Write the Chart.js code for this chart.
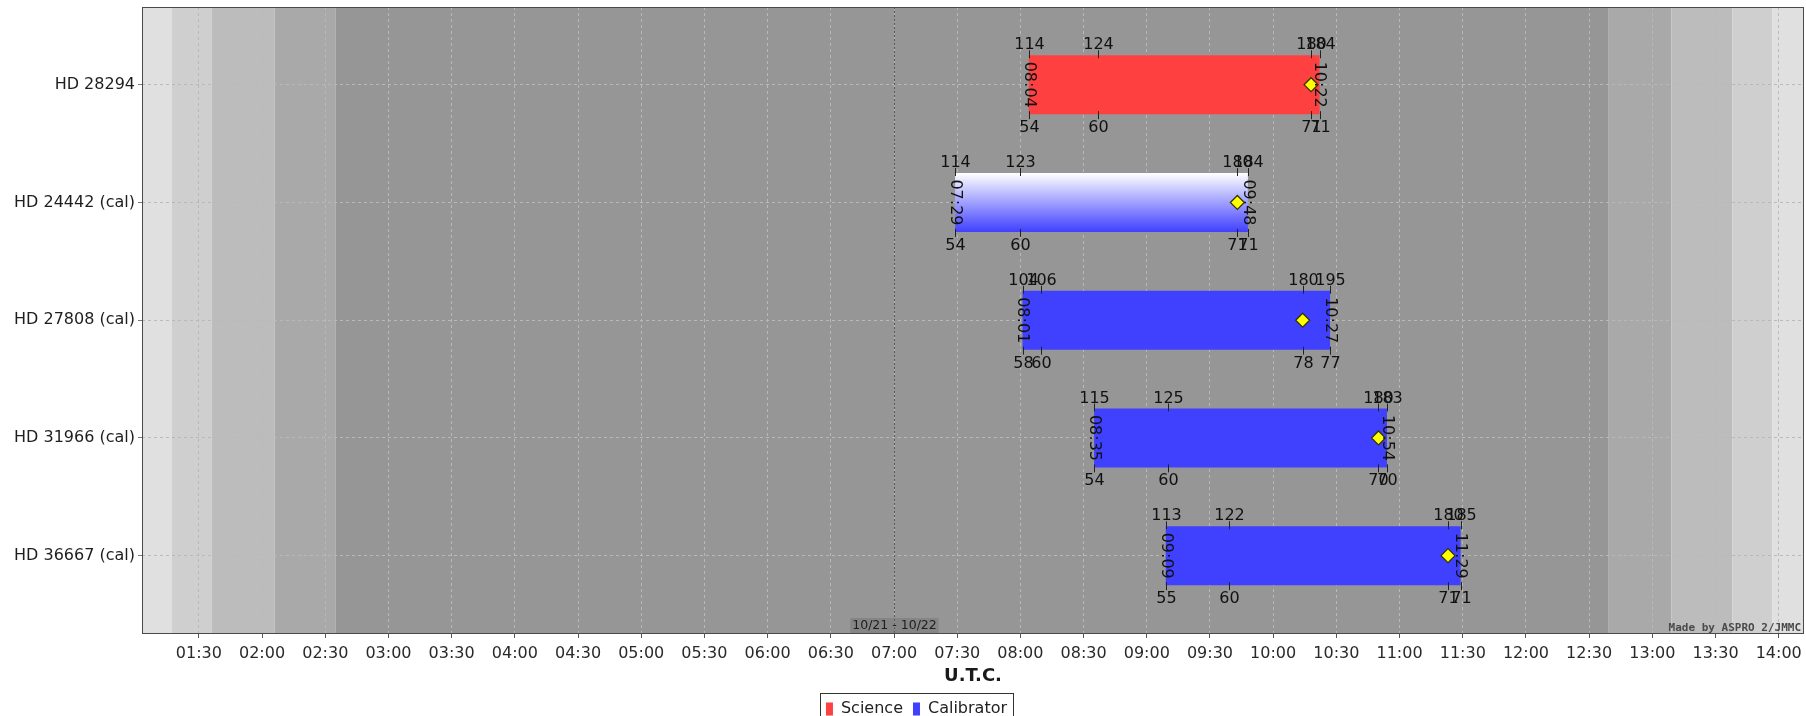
<!DOCTYPE html>
<html>
<head>
<meta charset="utf-8">
<title>Observability</title>
<script src="https://cdn.jsdelivr.net/npm/chart.js@4.4.1/dist/chart.umd.min.js"></script>
<style>
  html, body { margin: 0; padding: 0; background: #ffffff; overflow: hidden; }
  canvas { display: block; }
</style>
</head>
<body>
<canvas id="chart" width="1806" height="727"></canvas>
<script>
// ---- Targets and their observability windows (U.T.C.) ----
const targets      = ['HD 28294', 'HD 24442 (cal)', 'HD 27808 (cal)', 'HD 31966 (cal)', 'HD 36667 (cal)'];
const targetKinds  = ['Science', 'Calibrator', 'Calibrator', 'Calibrator', 'Calibrator'];
const riseTimes    = ['08:04', '07:29', '08:01', '08:35', '09:09'];
const setTimes     = ['10:22', '09:48', '10:27', '10:54', '11:29'];
const elev60Times  = ['08:37', '08:00', '08:10', '09:10', '09:39'];
const transitTimes = ['10:18', '09:43', '10:14', '10:50', '11:23'];

// azimuth / elevation (deg) at rise, 60 deg elevation, transit and set
const riseAz    = [114, 114, 104, 115, 113];
const riseEl    = [54, 54, 58, 54, 55];
const elev60Az  = [124, 123, 106, 125, 122];
const elev60El  = [60, 60, 60, 60, 60];
const transitAz = [180, 180, 180, 180, 180];
const transitEl = [71, 71, 78, 70, 71];
const setAz     = [184, 184, 195, 183, 185];
const setEl     = [71, 71, 77, 70, 71];

// time axis
const axisStart = '01:03';
const axisEnd   = '14:12';
const timeTicks = ['01:30', '02:00', '02:30', '03:00', '03:30', '04:00', '04:30', '05:00', '05:30',
                   '06:00', '06:30', '07:00', '07:30', '08:00', '08:30', '09:00', '09:30', '10:00',
                   '10:30', '11:00', '11:30', '12:00', '12:30', '13:00', '13:30', '14:00'];

// twilight boundaries (sunset side, then sunrise side)
const twilightEdges = ['01:17', '01:36', '02:06', '02:35', '12:39', '13:09', '13:38', '13:57'];

// night change marker
const dateMarkTime  = '07:00';
const dateMarkLabel = '10/21 - 10/22';

const highlightedTarget = 'HD 24442 (cal)';
const creditText = 'Made by ASPRO 2/JMMC';

// ---- helpers ----
const FONT = "'DejaVu Sans', sans-serif";
const toMin = (hhmm) => { const [h, m] = hhmm.split(':').map(Number); return h * 60 + m; };

const scienceColor    = '#ff4040';
const calibratorColor = '#4040ff';
const gridColor       = '#b9b9b9';
const bandShades      = ['#e0e0e0', '#cfcfcf', '#bcbcbc', '#a9a9a9', '#969696',
                         '#a9a9a9', '#bcbcbc', '#cfcfcf', '#e0e0e0'];
const LEGEND_SHIFT = 14.5;

const rows = targets.map((_, i) => i);
const windowOf = (i) => ({ x: [toMin(riseTimes[i]), toMin(setTimes[i])], y: i });
const scienceData    = rows.filter(i => targetKinds[i] === 'Science').map(windowOf);
const calibratorData = rows.filter(i => targetKinds[i] === 'Calibrator').map(windowOf);
const transitData    = rows.map(i => ({ x: toMin(transitTimes[i]), y: i }));

const milestonesOf = (i) => [
  { t: riseTimes[i],    az: riseAz[i],    el: riseEl[i] },
  { t: elev60Times[i],  az: elev60Az[i],  el: elev60El[i] },
  { t: transitTimes[i], az: transitAz[i], el: transitEl[i] },
  { t: setTimes[i],     az: setAz[i],     el: setEl[i] }
];

// gradient fill for the highlighted calibrator bar
function calibratorFill(ctx) {
  if (ctx.type !== 'data' || !ctx.raw) return calibratorColor;
  const row = ctx.raw.y;
  if (targets[row] !== highlightedTarget) return calibratorColor;
  const ys = ctx.chart.scales.y;
  if (!ys) return calibratorColor;
  const top = ys.getPixelForValue(row - 0.25);
  const bottom = ys.getPixelForValue(row + 0.25);
  if (!isFinite(top) || !isFinite(bottom) || top === bottom) return calibratorColor;
  const g = ctx.chart.ctx.createLinearGradient(0, top, 0, bottom);
  g.addColorStop(0, '#ffffff');
  g.addColorStop(1, calibratorColor);
  return g;
}

// ---- plugins ----
const twilightBands = {
  id: 'twilightBands',
  beforeDraw(chart) {
    const { ctx, chartArea: a, scales: { x } } = chart;
    const edges = [a.left, ...twilightEdges.map(t => x.getPixelForValue(toMin(t))), a.right];
    ctx.save();
    ctx.fillStyle = '#ffffff';
    ctx.fillRect(0, 0, chart.width, chart.height);
    for (let k = 0; k < edges.length - 1; k++) {
      ctx.fillStyle = bandShades[k];
      ctx.fillRect(edges[k], a.top, edges[k + 1] - edges[k], a.bottom - a.top);
    }
    ctx.restore();
  }
};

// nudges the legend row to sit under the plot like the original layout
const legendOffset = {
  id: 'legendOffset',
  afterLayout(chart) {
    const lg = chart.legend;
    if (lg) { lg.left += LEGEND_SHIFT; lg.right += LEGEND_SHIFT; }
  }
};

const dateMarker = {
  id: 'dateMarker',
  beforeDatasetsDraw(chart) {
    const { ctx, chartArea: a, scales: { x } } = chart;
    const px = Math.round(x.getPixelForValue(toMin(dateMarkTime))) + 0.5;
    ctx.save();
    ctx.strokeStyle = '#5a5a5a';
    ctx.lineWidth = 1;
    ctx.setLineDash([2, 2]);
    ctx.beginPath();
    ctx.moveTo(px, a.top);
    ctx.lineTo(px, a.bottom);
    ctx.stroke();
    ctx.setLineDash([]);
    ctx.font = '12.5px ' + FONT;
    const w = ctx.measureText(dateMarkLabel).width + 4;
    ctx.fillStyle = 'rgba(100,100,100,0.32)';
    ctx.fillRect(px - w / 2, a.bottom - 16, w, 16);
    ctx.fillStyle = '#1e1e1e';
    ctx.textAlign = 'center';
    ctx.textBaseline = 'middle';
    ctx.fillText(dateMarkLabel, px, a.bottom - 8);
    ctx.restore();
  }
};

const windowMarks = {
  id: 'windowMarks',
  afterDatasetsDraw(chart) {
    const { ctx, scales: { x } } = chart;
    ctx.save();
    ctx.font = '16px ' + FONT;
    ctx.fillStyle = '#111111';
    ctx.strokeStyle = '#222222';
    ctx.lineWidth = 1;
    [0, 1].forEach(ds => {
      const meta = chart.getDatasetMeta(ds);
      const data = chart.data.datasets[ds].data;
      meta.data.forEach((bar, j) => {
        const row = data[j].y;
        const { y, height } = bar.getProps(['y', 'height'], true);
        const top = y - height / 2;
        const bottom = y + height / 2;
        milestonesOf(row).forEach(m => {
          const px = Math.round(x.getPixelForValue(toMin(m.t))) + 0.5;
          ctx.beginPath();
          ctx.moveTo(px, top - 5);
          ctx.lineTo(px, top + 3);
          ctx.moveTo(px, bottom - 3);
          ctx.lineTo(px, bottom + 5);
          ctx.stroke();
          ctx.textAlign = 'center';
          ctx.textBaseline = 'alphabetic';
          ctx.fillText(String(m.az), px, top - 6);
          ctx.fillText(String(m.el), px, bottom + 18);
        });
        [riseTimes[row], setTimes[row]].forEach(t => {
          const px = x.getPixelForValue(toMin(t));
          ctx.save();
          ctx.translate(px, y);
          ctx.rotate(Math.PI / 2);
          ctx.textAlign = 'center';
          ctx.textBaseline = 'middle';
          ctx.fillText(t, 0, 0);
          ctx.restore();
        });
      });
    });
    ctx.restore();
  }
};

const frameAndCredit = {
  id: 'frameAndCredit',
  afterDraw(chart) {
    const { ctx, chartArea: a, legend } = chart;
    ctx.save();
    // plot frame
    ctx.strokeStyle = '#4a4a4a';
    ctx.lineWidth = 1;
    ctx.strokeRect(Math.round(a.left) + 0.5, Math.round(a.top) + 0.5,
                   Math.round(a.right - a.left) - 1, Math.round(a.bottom - a.top) - 1);
    // credit
    ctx.font = 'bold 11px "DejaVu Sans Mono", monospace';
    ctx.fillStyle = '#4a4a4a';
    ctx.textAlign = 'right';
    ctx.textBaseline = 'alphabetic';
    ctx.fillText(creditText, a.right - 3, a.bottom - 3);
    // legend frame
    const hb = legend && legend.legendHitBoxes;
    if (hb && hb.length) {
      const last = hb[hb.length - 1];
      const l = Math.round(hb[0].left - 6) + 0.5;
      const r = Math.round(last.left + last.width + 6) + 0.5;
      const t = Math.round(hb[0].top - 8) + 0.5;
      ctx.strokeStyle = '#333333';
      ctx.strokeRect(l, t, r - l, 60);
    }
    ctx.restore();
  }
};

Chart.defaults.font.family = FONT;

new Chart(document.getElementById('chart'), {
  type: 'bar',
  data: {
    datasets: [
      {
        label: 'Science',
        data: scienceData,
        backgroundColor: scienceColor,
        borderWidth: 0,
        grouped: false,
        categoryPercentage: 1,
        barPercentage: 0.5,
        order: 2
      },
      {
        label: 'Calibrator',
        data: calibratorData,
        backgroundColor: calibratorFill,
        borderWidth: 0,
        grouped: false,
        categoryPercentage: 1,
        barPercentage: 0.5,
        order: 2
      },
      {
        type: 'scatter',
        label: 'Transit',
        indexAxis: 'x',
        data: transitData,
        pointStyle: 'rectRot',
        pointRadius: 7,
        pointBackgroundColor: '#ffff00',
        pointBorderColor: '#333300',
        pointBorderWidth: 1.2,
        order: 0
      }
    ]
  },
  options: {
    indexAxis: 'y',
    responsive: false,
    animation: false,
    events: [],
    layout: { autoPadding: false, padding: { top: 7, left: 0, right: 2, bottom: 0 } },
    plugins: {
      legend: {
        position: 'bottom',
        labels: {
          boxWidth: 7,
          boxHeight: 13,
          padding: 10,
          color: '#222222',
          font: { family: FONT, size: 16 },
          filter: (item) => item.datasetIndex < 2
        }
      },
      tooltip: { enabled: false },
      title: { display: false }
    },
    scales: {
      x: {
        type: 'linear',
        position: 'bottom',
        min: toMin(axisStart),
        max: toMin(axisEnd),
        afterBuildTicks: (s) => { s.ticks = timeTicks.map(t => ({ value: toMin(t) })); },
        afterFit: (s) => { s.height = 57; s.paddingLeft = 0; s.paddingRight = 0; },
        ticks: {
          autoSkip: false,
          maxRotation: 0,
          padding: 6,
          color: '#2a2a2a',
          font: { family: FONT, size: 16 },
          callback: (v, i) => timeTicks[i]
        },
        grid: { color: gridColor, tickColor: '#555555', tickLength: 4, lineWidth: 1 },
        border: { display: false, dash: [3, 3] },
        title: {
          display: true,
          text: 'U.T.C.',
          color: '#1a1a1a',
          font: { family: FONT, size: 18, weight: 'bold' },
          padding: { top: 0, bottom: 4 }
        }
      },
      y: {
        type: 'linear',
        reverse: true,
        offset: false,
        min: -0.66,
        max: 4.665,
        afterBuildTicks: (s) => { s.ticks = targets.map((_, i) => ({ value: i })); },
        afterFit: (s) => { s.width = 142; s.paddingTop = 0; s.paddingBottom = 0; },
        ticks: {
          autoSkip: false,
          padding: 3,
          color: '#1e1e1e',
          font: { family: FONT, size: 16 },
          callback: (v) => targets[v]
        },
        grid: { offset: false, color: gridColor, tickColor: '#777777', tickLength: 4, lineWidth: 1 },
        border: { display: false, dash: [3, 3] }
      }
    }
  },
  plugins: [twilightBands, legendOffset, dateMarker, windowMarks, frameAndCredit]
});
</script>
</body>
</html>
